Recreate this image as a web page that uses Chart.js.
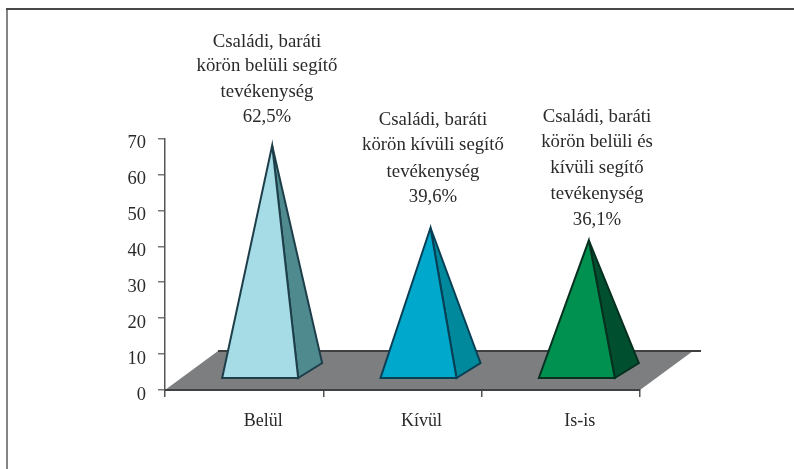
<!DOCTYPE html>
<html><head><meta charset="utf-8">
<style>html,body{margin:0;padding:0;background:#fff}#w{width:794px;height:469px;position:relative}</style>
<script src="https://cdn.jsdelivr.net/npm/chart.js@4"></script>
</head><body><div id="w"><canvas id="c" width="794" height="469"></canvas></div>
<script>
const categories = ['Belül', 'Kívül', 'Is-is'];
const values = [62.5, 39.6, 36.1];
const yTicks = [0, 10, 20, 30, 40, 50, 60, 70];
const faceColors = ['#A6DCE6', '#00A8CC', '#009150'];
const sideColors = ['#4E8A8E', '#00899C', '#00502F'];
const edgeColors = ['#1E3F4A', '#083F55', '#06301F'];
const labelLines = [
  ['Családi, baráti', 'körön belüli segítő', 'tevékenység', '62,5%'],
  ['Családi, baráti', 'körön kívüli segítő', 'tevékenység', '39,6%'],
  ['Családi, baráti', 'körön belüli és', 'kívüli segítő', 'tevékenység', '36,1%']
];
const labelCenters = [267, 433, 597];
const labelBaselines = [[47, 71, 97, 122], [125, 150, 177, 202], [122, 147, 173, 199, 225]];
const FONT = '18.8px "Liberation Serif"';
const INK = '#2a2a2a';

const pyramidPlugin = {
  id: 'pyramids',
  beforeDraw(chart) {
    const c = chart.ctx;
    c.save();
    c.strokeStyle = '#858585'; c.lineWidth = 2;
    c.beginPath(); c.moveTo(7, 469); c.lineTo(7, 9); c.stroke();
    c.strokeStyle = '#484848';
    c.beginPath(); c.moveTo(6, 9); c.lineTo(794, 9); c.stroke();
    c.restore();
  },
  beforeDatasetsDraw(chart) {
    const c = chart.ctx, a = chart.chartArea;
    const ddx = 53, ddy = 39;
    c.save();
    c.fillStyle = '#7C7E80'; c.strokeStyle = '#3f4042'; c.lineWidth = 2;
    c.beginPath();
    c.moveTo(a.left, a.bottom); c.lineTo(a.left + ddx, a.bottom - ddy);
    c.lineTo(a.right + ddx, a.bottom - ddy); c.lineTo(a.right, a.bottom); c.closePath();
    c.fill();
    c.beginPath();
    c.moveTo(a.left + ddx, a.bottom - ddy); c.lineTo(a.right + ddx + 8, a.bottom - ddy);
    c.moveTo(a.left, a.bottom); c.lineTo(a.right, a.bottom);
    c.stroke();
    c.restore();
  },
  afterDatasetsDraw(chart) {
    const c = chart.ctx, a = chart.chartArea;
    const bars = chart.getDatasetMeta(0).data;
    bars.forEach((b, i) => {
      const fl = b.x - 22, fr = b.x + 54, br = b.x + 78, tx = b.x + 28;
      const fy = a.bottom - 12, by = a.bottom - 27, ty = b.y - 20;
      c.save();
      c.lineJoin = 'miter'; c.lineWidth = 2; c.strokeStyle = edgeColors[i];
      c.fillStyle = sideColors[i];
      c.beginPath(); c.moveTo(fr, fy); c.lineTo(br, by); c.lineTo(tx, ty); c.closePath(); c.fill(); c.stroke();
      c.fillStyle = faceColors[i];
      c.beginPath(); c.moveTo(fl, fy); c.lineTo(fr, fy); c.lineTo(tx, ty); c.closePath(); c.fill(); c.stroke();
      c.restore();
    });
    c.save();
    c.font = FONT; c.fillStyle = INK; c.textAlign = 'center'; c.textBaseline = 'alphabetic';
    labelLines.forEach((lines, i) => lines.forEach((t, j) => c.fillText(t, labelCenters[i], labelBaselines[i][j])));
    c.restore();
  }
};

new Chart(document.getElementById('c'), {
  type: 'bar',
  data: { labels: categories, datasets: [{ data: values, backgroundColor: 'rgba(0,0,0,0)', borderWidth: 0, barPercentage: 0.48, categoryPercentage: 1 }] },
  plugins: [pyramidPlugin],
  options: {
    responsive: false, animation: false,
    layout: { padding: { top: 138.5, right: 154, left: 0, bottom: 0 } },
    plugins: { legend: { display: false }, tooltip: { enabled: false }, title: { display: false } },
    scales: {
      x: {
        offset: true,
        afterFit(s) { s.height = 79; },
        grid: { offset: true, drawOnChartArea: false, drawTicks: true, tickLength: 7, color: '#555', lineWidth: 1.5 },
        border: { color: '#3f4042', width: 2 },
        ticks: { font: { family: 'Liberation Serif', size: 18 }, color: INK, padding: 13, labelOffset: 19, maxRotation: 0 }
      },
      y: {
        min: 0, max: 70,
        afterFit(s) { s.width = 165; },
        afterBuildTicks(s) { s.ticks = yTicks.map(v => ({ value: v })); },
        grid: { drawOnChartArea: false, drawTicks: true, tickLength: 7, color: '#777', lineWidth: 1.5 },
        border: { color: '#555', width: 1.5 },
        ticks: { font: { family: 'Liberation Serif', size: 18.5 }, color: INK, padding: 12, labelOffset: 5 }
      }
    }
  }
});
</script></body></html>
